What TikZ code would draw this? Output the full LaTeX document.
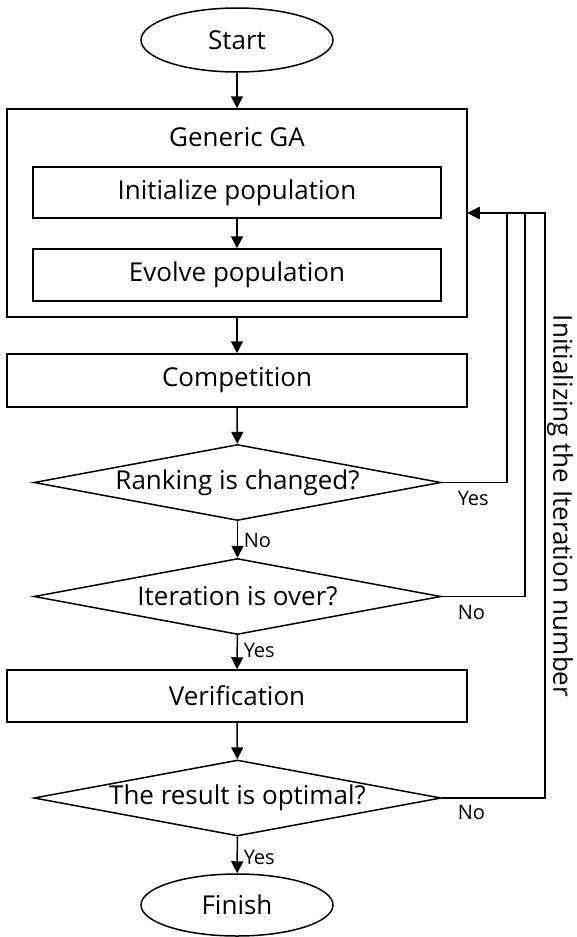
\documentclass[tikz,border=0pt]{standalone}
\usepackage{fontspec}
\setmainfont{Open Sans}
\usetikzlibrary{shapes.geometric,arrows.meta}
\begin{document}
\begin{tikzpicture}[x=1pt,y=-1pt,line width=1.5pt,
  mainfont/.style={font=\fontsize{26}{30}\selectfont},
  lab/.style={font=\fontsize{20}{24}\selectfont,inner sep=0pt,anchor=west},
  box/.style={draw,rectangle,inner sep=0pt,mainfont},
  term/.style={draw,ellipse,inner sep=0pt,minimum width=192pt,mainfont},
  decision/.style={draw,diamond,inner sep=0pt,minimum width=407pt,minimum height=76pt,mainfont},
  arr/.style={-{Triangle[length=12pt,width=12pt]}}]
\useasboundingbox (0,0) rectangle (576,937);
\node[term,minimum height=64pt] (start) at (237,40) {Start};
\node[box,minimum width=460pt,minimum height=208pt] (ga) at (237,213) {};
\node[mainfont,inner sep=0pt] (gatitle) at (237,137) {Generic GA};
\node[box,minimum width=408pt,minimum height=51pt] (init) at (237,192.5) {Initialize population};
\node[box,minimum width=408pt,minimum height=52pt] (evolve) at (237,275) {Evolve population};
\node[box,minimum width=460pt,minimum height=53pt] (comp) at (237,380.5) {Competition};
\node[decision] (rank) at (237.5,482.5) {\makebox[0pt]{Ranking is changed?}};
\node[decision] (iter) at (237.5,596.5) {\makebox[0pt]{Iteration is over?}};
\node[box,minimum width=460pt,minimum height=52pt] (verif) at (237,696) {Verification};
\node[decision] (opt) at (237.5,798) {\makebox[0pt]{The result is optimal?}};
\node[term,minimum height=62pt] (finish) at (237,905) {Finish};
\draw[arr] (start) -- (ga);
\draw[arr] (init) -- (evolve);
\draw[arr] (ga) -- (comp);
\draw[arr] (comp) -- (rank);
\draw[arr] (rank) -- (iter);
\draw[arr] (iter) -- (verif);
\draw[arr] (verif) -- (opt);
\draw[arr] (opt) -- (finish);
\coordinate (c1) at (507,213);
\coordinate (c2) at (525,213);
\coordinate (c3) at (545,213);
\draw[arr] (rank.east) -| (c1) -- (ga.east);
\draw[arr] (iter.east) -| (c2) -- (ga.east);
\draw[arr] (opt.east) -| (c3) -- (ga.east);
\node[lab] (l1) at (243,540) {No};
\node[lab] (l2) at (457,498) {Yes};
\node[lab] (l3) at (457,612) {No};
\node[lab] (l4) at (243,650) {Yes};
\node[lab] (l5) at (457,812) {No};
\node[lab] (l6) at (243,857) {Yes};
\node[mainfont,inner sep=0pt,rotate=-90] (vt) at (560,506) {Initializing the Iteration number};
\end{tikzpicture}
\end{document}
